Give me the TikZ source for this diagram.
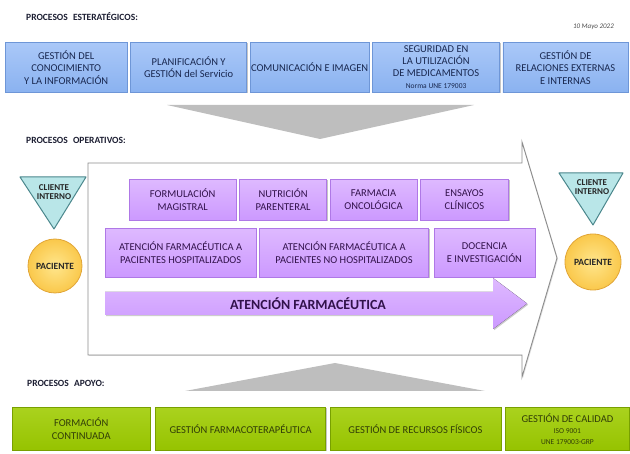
\documentclass[tikz,border=0pt]{standalone}
\usepackage{fontspec}
\setmainfont{Carlito}
\usetikzlibrary{positioning,shadows}

\definecolor{azul}{RGB}{138,178,240}
\definecolor{azulclaro}{RGB}{170,200,248}
\definecolor{azulborde}{RGB}{110,150,215}
\definecolor{azultexto}{RGB}{25,40,80}
\definecolor{lila}{RGB}{204,153,255}
\definecolor{lilaclaro}{RGB}{222,185,255}
\definecolor{lilaborde}{RGB}{175,120,230}
\definecolor{lilatexto}{RGB}{50,18,75}
\definecolor{verde}{RGB}{150,195,0}
\definecolor{verdeclaro}{RGB}{170,210,30}
\definecolor{verdeborde}{RGB}{120,160,0}
\definecolor{verdetexto}{RGB}{50,62,8}
\definecolor{cian}{RGB}{185,230,232}
\definecolor{cianborde}{RGB}{75,135,140}
\definecolor{oro}{RGB}{250,200,75}
\definecolor{oroclaro}{RGB}{255,230,140}
\definecolor{oroborde}{RGB}{225,165,55}
\definecolor{cuna}{RGB}{190,190,190}
\definecolor{titulos}{RGB}{28,30,50}

\begin{document}
\begin{tikzpicture}[x=1pt,y=-1pt,node distance=3pt]

	\tikzstyle{caja} = [rectangle, align=center, inner sep=1pt, font=\fontsize{10.5}{12.5}\selectfont, drop shadow={shadow xshift=1.2pt, shadow yshift=-1.2pt, opacity=0.45}]
	\tikzstyle{estr} = [caja, draw=azulborde, top color=azulclaro, bottom color=azul, text=azultexto, minimum height=50pt]
	\tikzstyle{oper} = [caja, draw=lilaborde, top color=lilaclaro, bottom color=lila, text=lilatexto]
	\tikzstyle{apoyo} = [caja, draw=verdeborde, top color=verdeclaro, bottom color=verde, text=verdetexto, minimum height=43pt]
	\tikzstyle{titulo} = [anchor=west, inner sep=0pt, text=titulos, font=\bfseries\fontsize{9.5}{11}\selectfont]
	\tikzstyle{cliente} = [draw=cianborde, fill=cian, line width=1pt, line join=round]
	\tikzstyle{clitxt} = [align=center, inner sep=0pt, text=black!85, font=\bfseries\fontsize{9}{9}\selectfont]
	\tikzstyle{paciente} = [circle, draw=oroborde, line width=0.8pt, inner color=oroclaro, outer color=oro, inner sep=0pt, text=black!85, font=\bfseries\fontsize{9.5}{10}\selectfont]
	\tikzstyle{bigarrow} = [draw=black!45, line width=0.9pt, fill=white, line join=miter, drop shadow={shadow xshift=1pt, shadow yshift=-1pt, opacity=0.25}]

	\useasboundingbox (0,0) rectangle (630,454);

	% estrategicos
	\node [titulo] (tit1) at (26,17) {PROCESOS\hspace{3pt} ESTERATÉGICOS:};
	\node [anchor=east, inner sep=0pt, text=black!70, font=\itshape\fontsize{7}{8}\selectfont] (fecha) at (614,27) {10 Mayo 2022};

	\node [estr, minimum width=122pt, anchor=north west] (b1) at (5,42) {GESTIÓN DEL\\CONOCIMIENTO\\Y LA INFORMACIÓN};
	\node [estr, minimum width=116pt] (b2) [right=of b1] {PLANIFICACIÓN Y\\GESTIÓN del Servicio};
	\node [estr, minimum width=119pt] (b3) [right=of b2] {COMUNICACIÓN E IMAGEN};
	\node [estr, minimum width=127pt, font=\fontsize{10.5}{11.8}\selectfont] (b4) [right=of b3] {SEGURIDAD EN\\LA UTILIZACIÓN\\DE MEDICAMENTOS\\{\fontsize{7.5}{9}\selectfont Norma UNE 179003}};
	\node [estr, minimum width=125pt] (b5) [right=of b4] {GESTIÓN DE\\RELACIONES EXTERNAS\\E INTERNAS};

	\fill [cuna] (167,105) -- (474,105) -- (320,139) -- cycle;

	% operativos
	\node [titulo] (tit2) at (26,140) {PROCESOS\hspace{3pt} OPERATIVOS:};

	\draw [bigarrow] (88,163) -- (522,163) -- (522,142) -- (557,258) -- (522,377) -- (522,355) -- (88,355) -- cycle;

	\node [oper, minimum width=107pt, minimum height=41pt, anchor=north west] (p1) at (129,179) {FORMULACIÓN\\MAGISTRAL};
	\node [oper, minimum width=87pt, minimum height=41pt] (p2) [right=of p1] {NUTRICIÓN\\PARENTERAL};
	\node [oper, minimum width=87pt, minimum height=41pt] (p3) [right=of p2] {FARMACIA\\ONCOLÓGICA};
	\node [oper, minimum width=88pt, minimum height=41pt] (p4) [right=of p3] {ENSAYOS\\CLÍNICOS};

	\node [oper, minimum width=151pt, minimum height=49pt, anchor=north west] (q1) at (105,228) {ATENCIÓN FARMACÉUTICA A\\PACIENTES HOSPITALIZADOS};
	\node [oper, minimum width=169pt, minimum height=49pt] (q2) [right=of q1] {ATENCIÓN FARMACÉUTICA A\\PACIENTES NO HOSPITALIZADOS};
	\node [oper, minimum width=101pt, minimum height=49pt] (q3) [right=5pt of q2] {DOCENCIA\\E INVESTIGACIÓN};

	\fill [top color=lilaclaro, bottom color=lila, drop shadow={shadow xshift=1.2pt, shadow yshift=-1.2pt, opacity=0.4}]
		(105,292) -- (493,292) -- (493,278) -- (527,303.5) -- (493,329) -- (493,315) -- (105,315) -- cycle;
	\node [inner sep=0pt, text=lilatexto, font=\bfseries\fontsize{14}{14}\selectfont] (atf) at (308,303.5) {ATENCIÓN FARMACÉUTICA};

	\filldraw [cliente] (20,177) -- (86,177) -- (54,229) -- cycle;
	\node [clitxt] (cli1) at (54,192.5) {CLIENTE\\INTERNO};
	\node [paciente, minimum size=54pt] (pac1) at (55,266) {PACIENTE};

	\filldraw [cliente] (559,173) -- (623,173) -- (593,225) -- cycle;
	\node [clitxt] (cli2) at (592,187) {CLIENTE\\INTERNO};
	\node [paciente, minimum size=56pt] (pac2) at (593,262) {PACIENTE};

	% apoyo
	\node [titulo] (tit3) at (27,383) {PROCESOS\hspace{3pt} APOYO:};
	\fill [cuna] (185,391) -- (485,391) -- (335,363) -- cycle;

	\node [apoyo, minimum width=138pt, anchor=north west] (g1) at (12,407) {FORMACIÓN\\CONTINUADA};
	\node [apoyo, minimum width=170pt] (g2) [right=5pt of g1] {GESTIÓN FARMACOTERAPÉUTICA};
	\node [apoyo, minimum width=171pt] (g3) [right=4pt of g2] {GESTIÓN DE RECURSOS FÍSICOS};
	\node [apoyo, minimum width=124pt, font=\fontsize{10.5}{11}\selectfont] (g4) [right=4pt of g3] {GESTIÓN DE CALIDAD\\{\fontsize{7.5}{9}\selectfont ISO 9001}\\{\fontsize{7.5}{9}\selectfont UNE 179003-GRP}};

\end{tikzpicture}
\end{document}
